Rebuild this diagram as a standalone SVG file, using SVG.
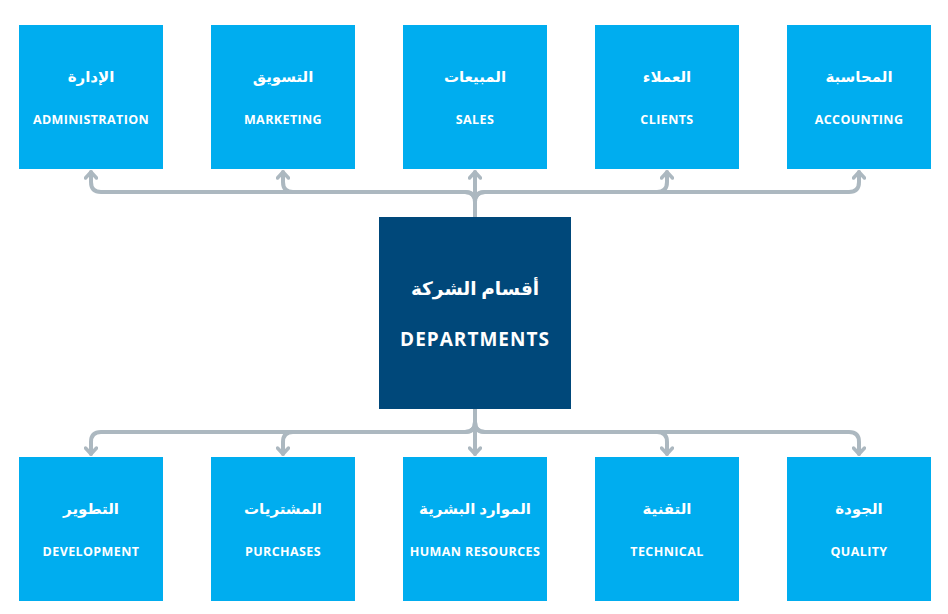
<svg xmlns="http://www.w3.org/2000/svg" width="948" height="614" viewBox="0 0 948 614">
<defs>
<style>
.box{fill:#00ADEF}
.hub{fill:#00487A}
.ar{font-family:"Noto Sans","DejaVu Sans",sans-serif;font-weight:bold;font-size:15px;fill:#fff;text-anchor:middle}
.en{font-family:"Open Sans","Noto Sans",sans-serif;font-weight:bold;font-size:12.5px;fill:#fff;text-anchor:middle;letter-spacing:0.4px}
.con{fill:none;stroke:#ACB8C0;stroke-width:4;stroke-linecap:round;stroke-linejoin:round}
</style>
<marker id="ah" viewBox="0 0 10 14" refX="8" refY="7" markerWidth="10" markerHeight="14" markerUnits="userSpaceOnUse" orient="auto">
<path d="M2,1.5 L8,7 L2,12.5" fill="none" stroke="#ACB8C0" stroke-width="3.5" stroke-linecap="round" stroke-linejoin="round"/>
</marker>
</defs>
<rect width="948" height="614" fill="#fff"/>
<g id="connectors" class="con">
<path d="M475,217 V202 Q475,192 465,192 H101 Q91,192 91,182 V172" marker-end="url(#ah)"/>
<path d="M475,217 V202 Q475,192 465,192 H293 Q283,192 283,182 V172" marker-end="url(#ah)"/>
<path d="M475,217 V172" marker-end="url(#ah)"/>
<path d="M475,217 V202 Q475,192 485,192 H657 Q667,192 667,182 V172" marker-end="url(#ah)"/>
<path d="M475,217 V202 Q475,192 485,192 H849 Q859,192 859,182 V172" marker-end="url(#ah)"/>
<path d="M475,409 V422 Q475,432 465,432 H101 Q91,432 91,442 V454" marker-end="url(#ah)"/>
<path d="M475,409 V422 Q475,432 465,432 H293 Q283,432 283,442 V454" marker-end="url(#ah)"/>
<path d="M475,409 V454" marker-end="url(#ah)"/>
<path d="M475,409 V422 Q475,432 485,432 H657 Q667,432 667,442 V454" marker-end="url(#ah)"/>
<path d="M475,409 V422 Q475,432 485,432 H849 Q859,432 859,442 V454" marker-end="url(#ah)"/>
</g>
<g id="hub">
<rect class="hub" x="379" y="217" width="192" height="192"/>
<text class="ar" x="475" y="295" style="font-size:18.5px">أقسام الشركة</text>
<text class="en" x="475" y="346" style="font-size:19px;letter-spacing:1px">DEPARTMENTS</text>
</g>
<g id="administration"><rect class="box" x="19" y="25" width="144" height="144"/><text class="ar" x="91" y="82">الإدارة</text><text class="en" x="91" y="124">ADMINISTRATION</text></g>
<g id="marketing"><rect class="box" x="211" y="25" width="144" height="144"/><text class="ar" x="283" y="82">التسويق</text><text class="en" x="283" y="124">MARKETING</text></g>
<g id="sales"><rect class="box" x="403" y="25" width="144" height="144"/><text class="ar" x="475" y="82">المبيعات</text><text class="en" x="475" y="124">SALES</text></g>
<g id="clients"><rect class="box" x="595" y="25" width="144" height="144"/><text class="ar" x="667" y="82">العملاء</text><text class="en" x="667" y="124">CLIENTS</text></g>
<g id="accounting"><rect class="box" x="787" y="25" width="144" height="144"/><text class="ar" x="859" y="82">المحاسبة</text><text class="en" x="859" y="124">ACCOUNTING</text></g>
<g id="development"><rect class="box" x="19" y="457" width="144" height="144"/><text class="ar" x="91" y="514">التطوير</text><text class="en" x="91" y="556">DEVELOPMENT</text></g>
<g id="purchases"><rect class="box" x="211" y="457" width="144" height="144"/><text class="ar" x="283" y="514">المشتريات</text><text class="en" x="283" y="556">PURCHASES</text></g>
<g id="hr"><rect class="box" x="403" y="457" width="144" height="144"/><text class="ar" x="475" y="514">الموارد البشرية</text><text class="en" x="475" y="556">HUMAN RESOURCES</text></g>
<g id="technical"><rect class="box" x="595" y="457" width="144" height="144"/><text class="ar" x="667" y="514">التقنية</text><text class="en" x="667" y="556">TECHNICAL</text></g>
<g id="quality"><rect class="box" x="787" y="457" width="144" height="144"/><text class="ar" x="859" y="514">الجودة</text><text class="en" x="859" y="556">QUALITY</text></g>
</svg>
